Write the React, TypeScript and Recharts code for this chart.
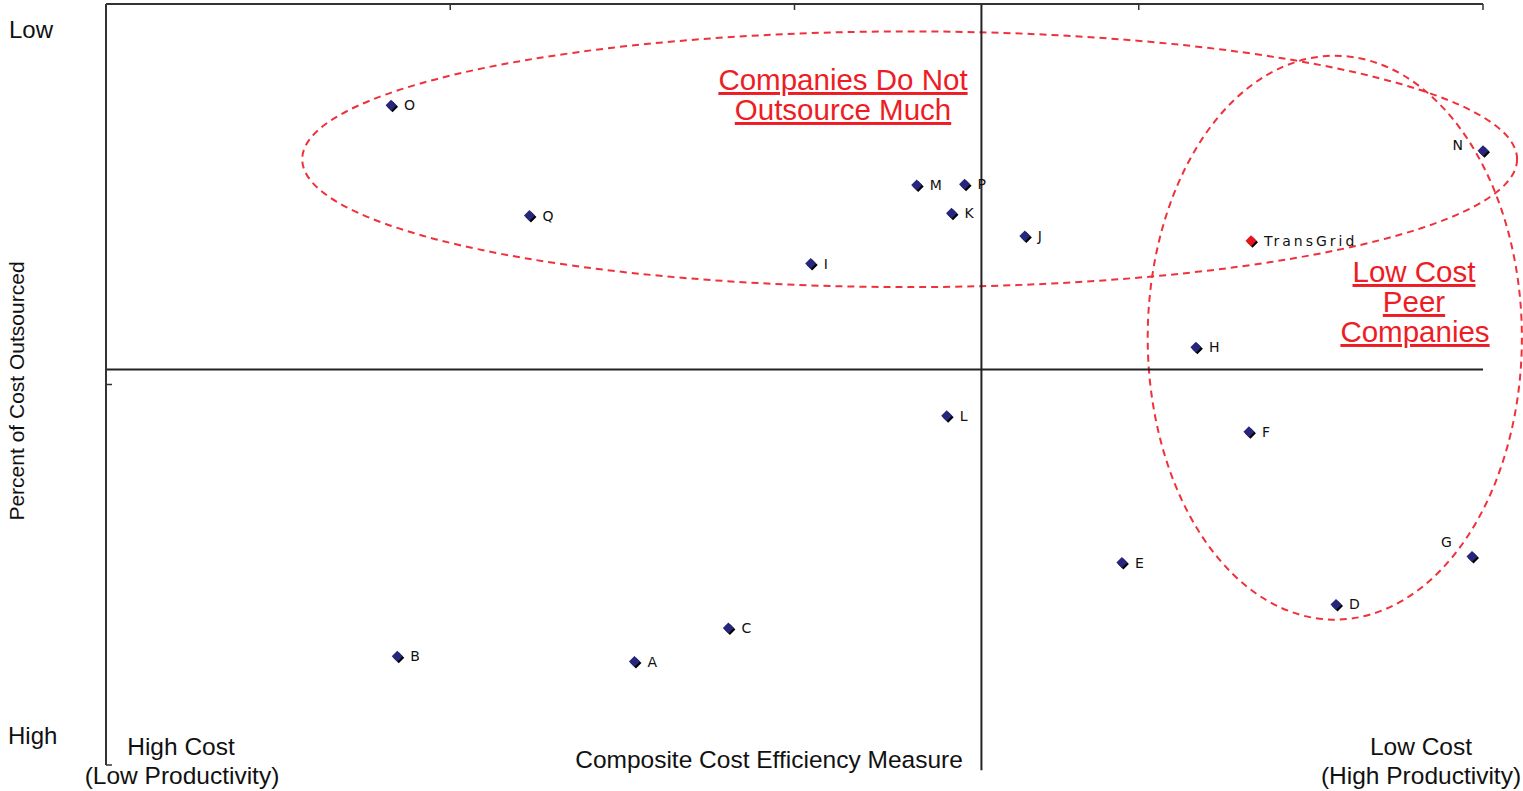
import React from 'react';
import { ScatterChart, Scatter, XAxis, YAxis, ReferenceLine, ReferenceArea } from 'recharts';

// ---- data ----
const companies = ['O', 'Q', 'I', 'M', 'P', 'K', 'J', 'TransGrid', 'N', 'H', 'L', 'F', 'E', 'G', 'D', 'C', 'B', 'A'];
const costEfficiency = [0.828, 1.23, 2.047, 2.355, 2.494, 2.456, 2.669, 3.326, 4.0, 3.166, 2.442, 3.32, 2.951, 3.968, 3.573, 1.808, 0.846, 1.535];
const outsourcingScore = [8.67, 7.22, 6.59, 7.62, 7.63, 7.25, 6.95, 6.89, 8.07, 5.49, 4.59, 4.38, 2.66, 2.74, 2.11, 1.8, 1.43, 1.36];
const highlighted = ['TransGrid'];
const xTicks = [0, 1, 2, 3, 4];
const yTicks = [0, 5, 10];
const xDivider = 2.543;
const yDivider = 5.197;
// ellipse bounding boxes [x1, x2, y1, y2]
const groupNoOutsource = [0.57, 4.099, 6.28, 9.64];
const groupLowCost = [3.026, 4.113, 1.91, 9.32];

const data = companies.map((name, i) => ({ name, x: costEfficiency[i], y: outsourcingScore[i] }));

const leftLabels: Record<string, [number, number]> = { N: [-20, -6], G: [-20, -14] };

const NAVY = '#26267c';
const RED = '#ee1c25';

const Marker = (props: any) => {
  const { cx, cy, payload } = props;
  if (cx == null || cy == null) return null;
  const hi = highlighted.includes(payload.name);
  const r = 5.5;
  const pts = (ox: number, oy: number) =>
    `${cx + ox},${cy - r + oy} ${cx + r + ox},${cy + oy} ${cx + ox},${cy + r + oy} ${cx - r + ox},${cy + oy}`;
  const lab = leftLabels[payload.name];
  return (
    <g>
      <polygon points={pts(1.5, 1.5)} fill="#000" />
      <polygon points={pts(0, 0)} fill={hi ? '#e8141c' : NAVY} />
      <text
        x={lab ? cx + lab[0] : cx + 13}
        y={lab ? cy + lab[1] : cy}
        dy={5}
        textAnchor={lab ? 'end' : 'start'}
        fontFamily="DejaVu Sans, Verdana, sans-serif"
        fontSize={14}
        letterSpacing={payload.name.length > 1 ? 3 : 0}
        fill="#111"
      >
        {payload.name}
      </text>
    </g>
  );
};

const EllipseShape = (props: any) => {
  const { x, y, width, height } = props;
  if (x == null) return null;
  return (
    <ellipse
      cx={x + width / 2}
      cy={y + height / 2}
      rx={Math.abs(width) / 2}
      ry={Math.abs(height) / 2}
      fill="none"
      stroke="#f0303a"
      strokeWidth={2}
      strokeDasharray="7 5"
    />
  );
};

const NoTick = () => <g />;

export default function App() {
  const txt = { fontFamily: 'Liberation Sans, Arial, sans-serif', fill: '#111' } as any;
  return (
    <div style={{ position: 'absolute', left: 0, top: 0, width: 1523, height: 791, background: '#fff' }}>
      <ScatterChart width={1523} height={791} margin={{ top: 4, right: 40, bottom: 26, left: 106 }}>
        <XAxis
          type="number"
          dataKey="x"
          domain={[0, 4]}
          ticks={xTicks}
          orientation="top"
          height={1}
          mirror
          tick={NoTick}
          tickSize={6}
          axisLine={{ stroke: '#333', strokeWidth: 2 }}
          tickLine={{ stroke: '#333', strokeWidth: 1.5 }}
        />
        <YAxis
          type="number"
          dataKey="y"
          domain={[0, 10]}
          ticks={yTicks}
          width={1}
          mirror
          tick={NoTick}
          tickSize={6}
          axisLine={{ stroke: '#333', strokeWidth: 2 }}
          tickLine={{ stroke: '#333', strokeWidth: 1.5 }}
        />
        <ReferenceLine
          segment={[{ x: xDivider, y: 10 }, { x: xDivider, y: -0.07 }]}
          stroke="#222"
          strokeWidth={2}
          ifOverflow="visible"
        />
        <ReferenceLine y={yDivider} stroke="#222" strokeWidth={2} ifOverflow="visible" />
        <ReferenceArea
          x1={groupNoOutsource[0]}
          x2={groupNoOutsource[1]}
          y1={groupNoOutsource[2]}
          y2={groupNoOutsource[3]}
          ifOverflow="visible"
          shape={EllipseShape}
        />
        <ReferenceArea
          x1={groupLowCost[0]}
          x2={groupLowCost[1]}
          y1={groupLowCost[2]}
          y2={groupLowCost[3]}
          ifOverflow="visible"
          shape={EllipseShape}
        />
        <Scatter data={data} shape={Marker} isAnimationActive={false} />
      </ScatterChart>
      <svg width={1523} height={791} style={{ position: 'absolute', left: 0, top: 0, pointerEvents: 'none' }}>
        <text x={9} y={38} fontSize={24} {...txt}>Low</text>
        <text x={8} y={744} fontSize={24} {...txt}>High</text>
        <text
          transform="translate(24,391) rotate(-90)"
          textAnchor="middle"
          fontSize={21}
          {...txt}
        >
          Percent of Cost Outsourced
        </text>
        <text x={181} y={755} textAnchor="middle" fontSize={24.5} {...txt}>High Cost</text>
        <text x={182} y={784} textAnchor="middle" fontSize={24.5} {...txt}>(Low Productivity)</text>
        <text x={769} y={768} textAnchor="middle" fontSize={24.5} {...txt}>Composite Cost Efficiency Measure</text>
        <text x={1421} y={755} textAnchor="middle" fontSize={24.5} {...txt}>Low Cost</text>
        <text x={1421} y={784} textAnchor="middle" fontSize={24.5} {...txt}>(High Productivity)</text>
        <g fontFamily="Liberation Sans, Arial, sans-serif" fontSize={29.5} fill={RED} textAnchor="middle" textDecoration="underline">
          <text x={843} y={90}>Companies Do Not</text>
          <text x={843} y={120}>Outsource Much</text>
          <text x={1414} y={282}>Low Cost</text>
          <text x={1414} y={312}>Peer</text>
          <text x={1415} y={342}>Companies</text>
        </g>
      </svg>
    </div>
  );
}
